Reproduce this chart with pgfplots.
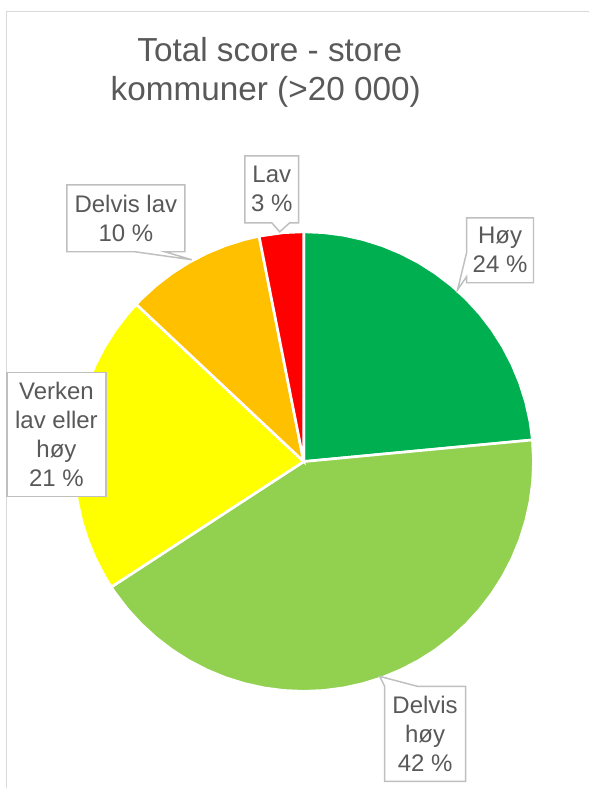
\documentclass[border=0pt]{standalone}
\usepackage{pgfplots}
\pgfplotsset{compat=1.18}
\usepackage{fontspec}
\setmainfont{Liberation Sans}

\definecolor{txt}{HTML}{595959}
\definecolor{boxline}{HTML}{BFBFBF}
\definecolor{frame}{HTML}{D9D9D9}
\definecolor{hoy}{HTML}{00B050}
\definecolor{delvishoy}{HTML}{92D050}
\definecolor{verken}{HTML}{FFFF00}
\definecolor{delvislav}{HTML}{FFC000}
\definecolor{lav}{HTML}{FF0000}

% shares (%): Hoy 23.5, Delvis hoy 42.3, Verken 21.2, Delvis lav 9.9, Lav 3.1
% start at 90 deg, clockwise; 1 % = 3.6 deg

\begin{document}
\begin{tikzpicture}
\begin{axis}[
    x=0.75pt, y=0.75pt,
    xmin=-304, xmax=286,
    ymin=-327, ymax=462,
    hide axis, clip=false,
    every axis plot/.append style={mark=none},
  ]
  \path (axis cs:-304,-327) rectangle (axis cs:286,462);

  % frame of the chart area
  \addplot[draw=frame, line width=1.1pt] coordinates {(-297.5,-327) (-297.5,450.5) (286,450.5)};

  % slices (angle, radius)
  \addplot[data cs=polar, fill=hoy, draw=white, line width=2pt] coordinates {
    (0,0) (90,230) (85,230) (80,230) (75,230) (70,230) (65,230) (60,230) (55,230)
    (50,230) (45,230) (40,230) (35,230) (30,230) (25,230) (20,230) (15,230)
    (10,230) (5.4,230)} -- cycle;
  \addplot[data cs=polar, fill=delvishoy, draw=white, line width=2pt] coordinates {
    (0,0) (5.4,230) (0,230) (-5,230) (-10,230) (-15,230) (-20,230) (-25,230)
    (-30,230) (-35,230) (-40,230) (-45,230) (-50,230) (-55,230) (-60,230)
    (-65,230) (-70,230) (-75,230) (-80,230) (-85,230) (-90,230) (-95,230)
    (-100,230) (-105,230) (-110,230) (-115,230) (-120,230) (-125,230)
    (-130,230) (-135,230) (-140,230) (-145,230) (-146.9,230)} -- cycle;
  \addplot[data cs=polar, fill=verken, draw=white, line width=2pt] coordinates {
    (0,0) (213.1,230) (210,230) (205,230) (200,230) (195,230) (190,230)
    (185,230) (180,230) (175,230) (170,230) (165,230) (160,230) (155,230)
    (150,230) (145,230) (140,230) (136.8,230)} -- cycle;
  \addplot[data cs=polar, fill=delvislav, draw=white, line width=2pt] coordinates {
    (0,0) (136.8,230) (135,230) (130,230) (125,230) (120,230) (115,230)
    (110,230) (105,230) (101.2,230)} -- cycle;
  \addplot[data cs=polar, fill=lav, draw=white, line width=2pt] coordinates {
    (0,0) (101.2,230) (95,230) (90,230)} -- cycle;

  % callouts
  \addplot[draw=boxline, fill=white, line width=1.1pt] coordinates {
    (-59,306) (-5,306) (-5,239) (-14,239) (-24,230) (-32,239) (-59,239)} -- cycle;
  \addplot[draw=boxline, fill=white, line width=1.1pt] coordinates {
    (-237,277) (-119,277) (-119,210) (-139,210) (-112,202) (-169,210) (-237,210)} -- cycle;
  \addplot[draw=boxline, fill=white, line width=1.1pt] coordinates {
    (163,244) (230,244) (230,179) (163,179) (163,185) (154,172) (163,209)} -- cycle;
  \addplot[draw=boxline, fill=white, line width=1.1pt] coordinates {
    (-297,89) (-198,89) (-198,-35) (-297,-35)} -- cycle;
  \addplot[draw=boxline, fill=white, line width=1.1pt] coordinates {
    (81,-225) (76,-215) (114,-225) (162,-225) (162,-320) (81,-320)} -- cycle;

  \tikzset{lbl/.style={text=txt, align=center, inner sep=0pt,
      font=\fontsize{18}{21.75}\selectfont}}
  \node[lbl] at (axis cs:-32,272.5) {Lav\\3 \%};
  \node[lbl] at (axis cs:-178,243.5) {Delvis lav\\10 \%};
  \node[lbl] at (axis cs:196.5,211.5) {Høy\\24 \%};
  \node[lbl] at (axis cs:-247.5,27) {Verken\\lav eller\\høy\\21 \%};
  \node[lbl] at (axis cs:121.5,-272.5) {Delvis\\høy\\42 \%};

  % title
  \node[text=txt, anchor=base, inner sep=0pt, font=\fontsize{25}{29}\selectfont]
    at (axis cs:-34,400) {Total score - store};
  \node[text=txt, anchor=base, inner sep=0pt, font=\fontsize{25}{29}\selectfont]
    at (axis cs:-38,361.5) {kommuner (>20 000)};
\end{axis}
\end{tikzpicture}
\end{document}
